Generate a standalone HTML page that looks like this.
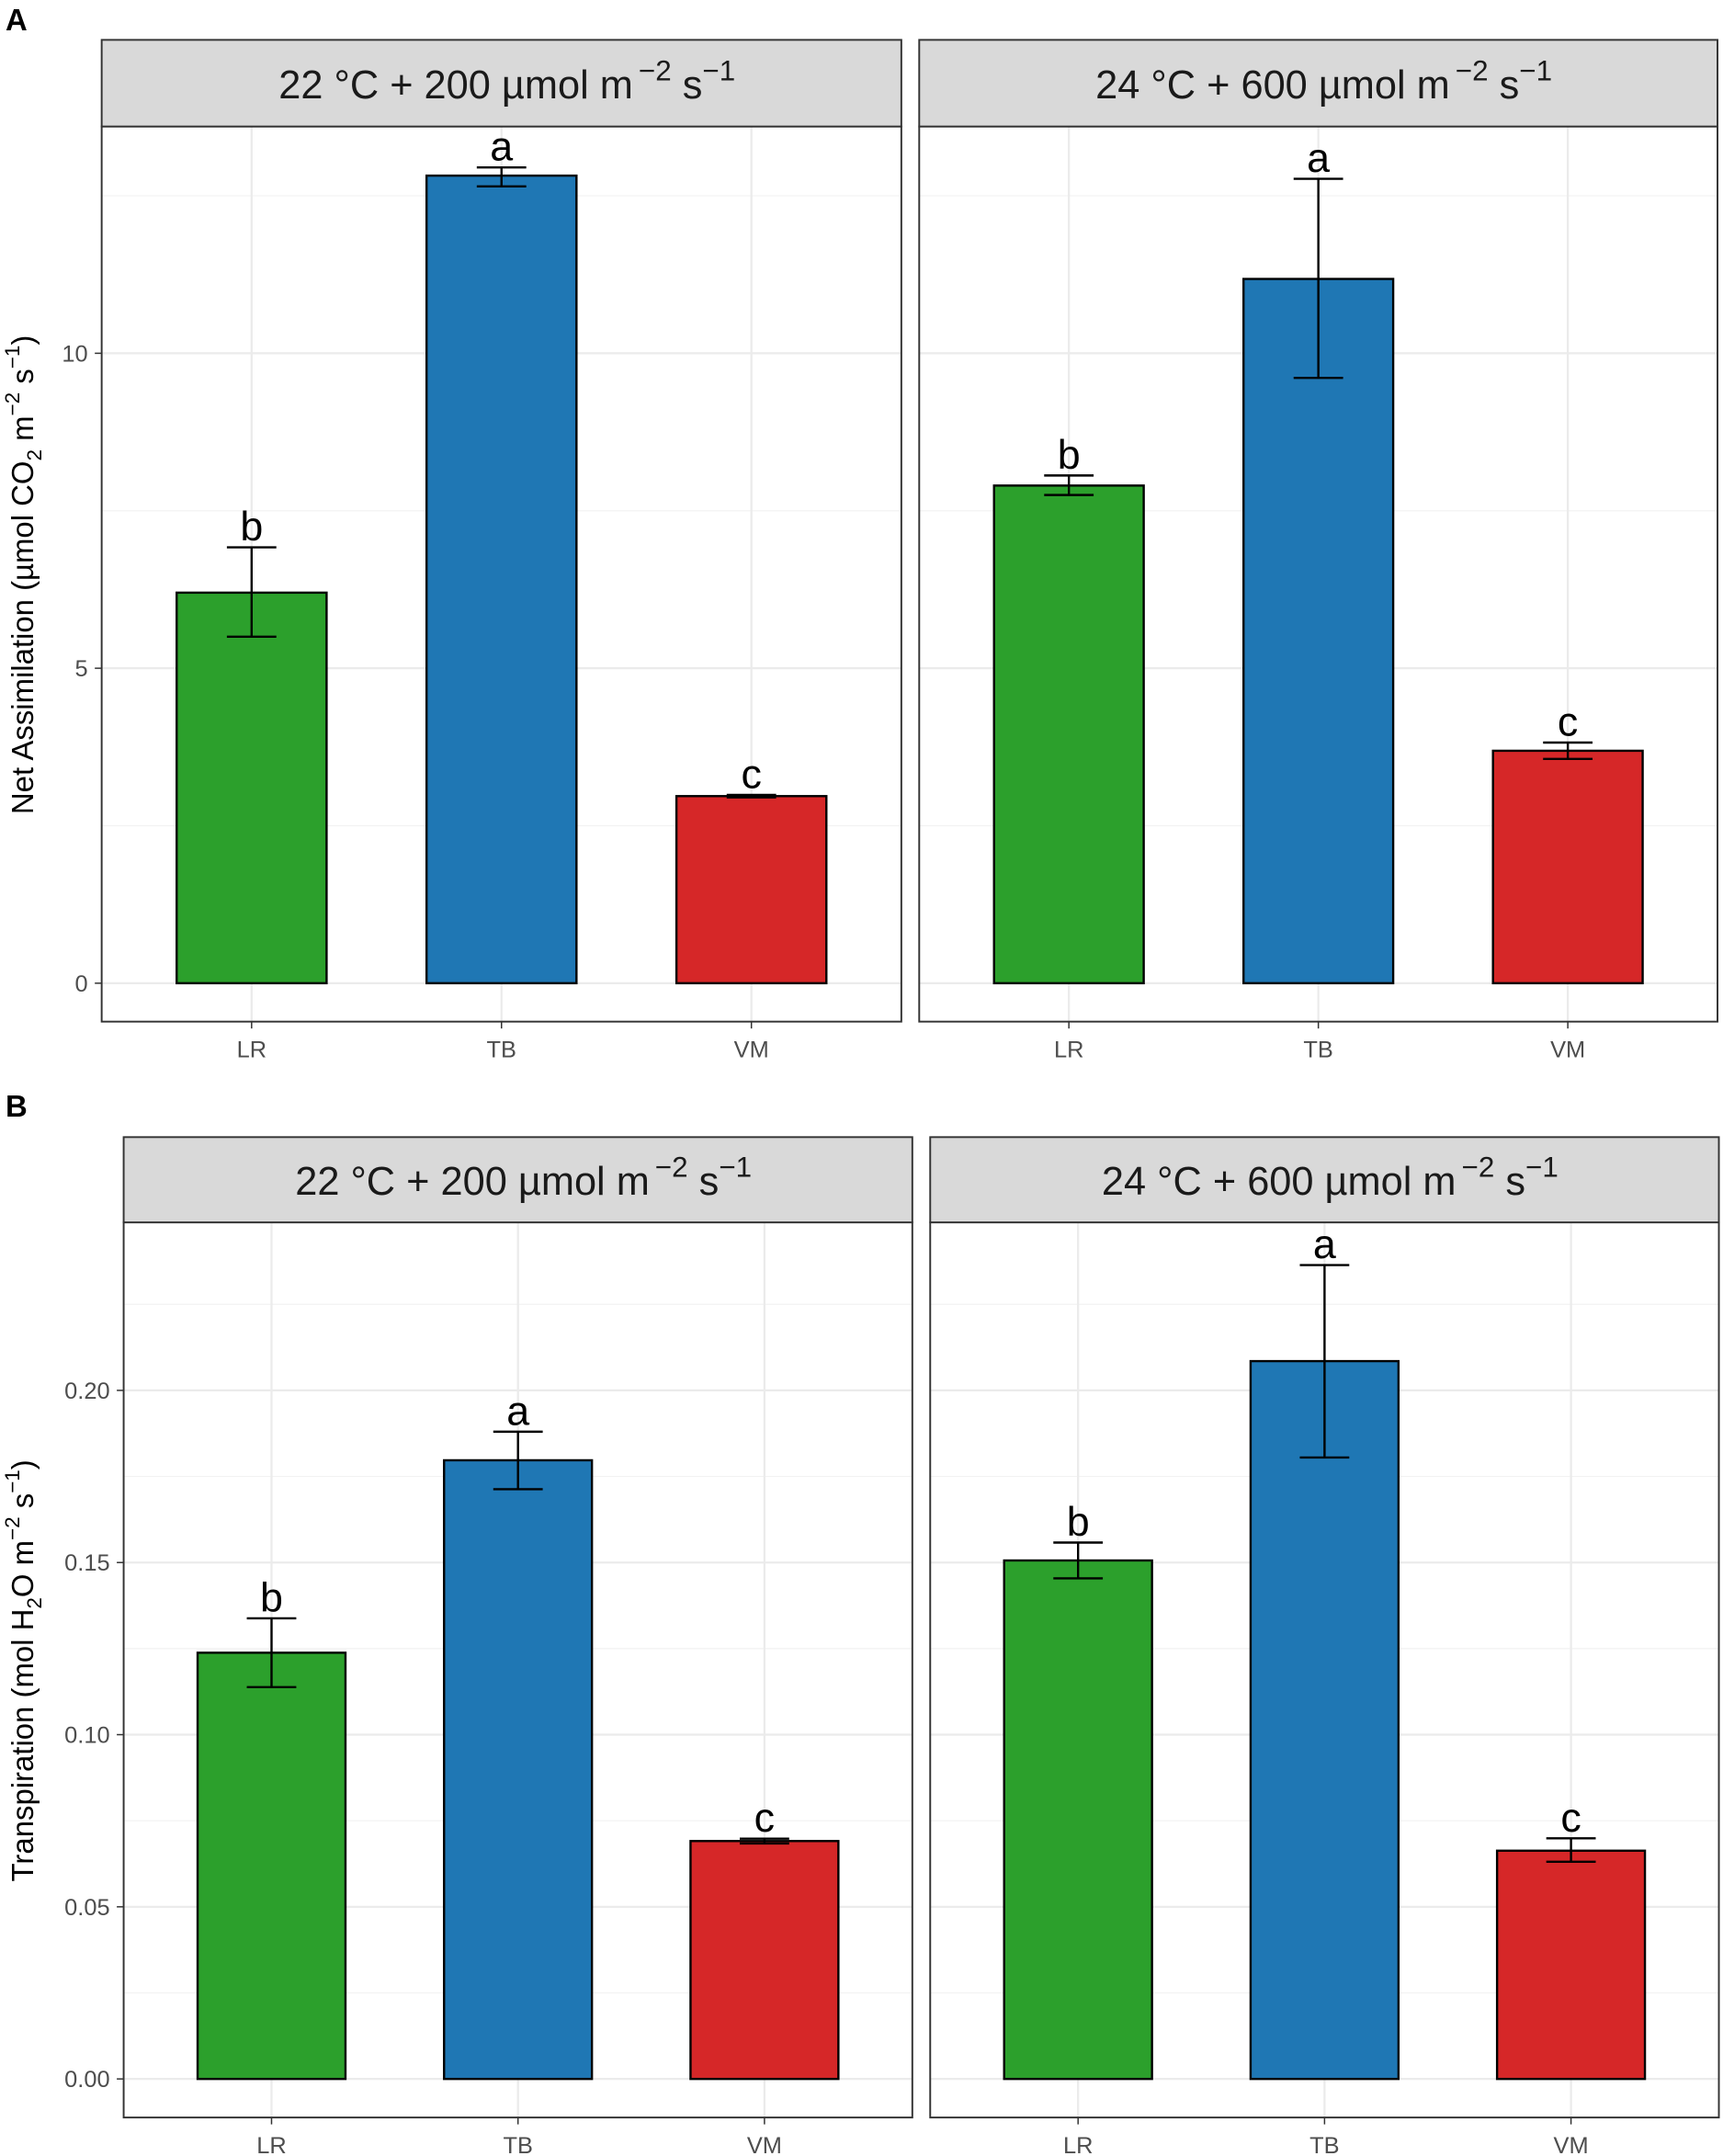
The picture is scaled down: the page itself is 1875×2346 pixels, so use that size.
<!DOCTYPE html>
<html><head><meta charset="utf-8"><style>
html,body{margin:0;padding:0;background:#fff}
svg{display:block;font-family:"Liberation Sans",Arial,sans-serif}
</style></head><body>
<svg id="c" width="1875" height="2346" viewBox="0 0 1254 1568" preserveAspectRatio="none" xmlns="http://www.w3.org/2000/svg"></svg>
<script>
const categories = ["LR","TB","VM"];
const colors = ["#2ca02c","#1f77b4","#d62728"];
const aLeftVals = [6.2, 12.82, 2.97];
const aLeftLo = [5.5, 12.65, 2.95];
const aLeftHi = [6.92, 12.95, 2.99];
const aLeftLetters = ["b","a","c"];
const aRightVals = [7.9, 11.18, 3.69];
const aRightLo = [7.75, 9.61, 3.56];
const aRightHi = [8.06, 12.77, 3.82];
const aRightLetters = ["b","a","c"];
const aTicks = [0, 5, 10];
const aTickLabels = ["0","5","10"];
const bLeftVals = [0.1238, 0.1797, 0.0691];
const bLeftLo = [0.1138, 0.1713, 0.0684];
const bLeftHi = [0.1338, 0.188, 0.0698];
const bLeftLetters = ["b","a","c"];
const bRightVals = [0.1506, 0.2085, 0.0663];
const bRightLo = [0.1454, 0.1805, 0.0631];
const bRightHi = [0.1558, 0.2364, 0.0699];
const bRightLetters = ["b","a","c"];
const bTicks = [0, 0.05, 0.10, 0.15, 0.20];
const bTickLabels = ["0.00","0.05","0.10","0.15","0.20"];

const svg = document.getElementById('c');
const NS = "http://www.w3.org/2000/svg";
function mk(tag, attrs, parent){const e=document.createElementNS(NS,tag);for(const k in attrs)e.setAttribute(k,attrs[k]);(parent||svg).appendChild(e);return e;}
function sp(parent, txt, attrs){const e=mk('tspan',attrs||{},parent);e.textContent=txt;return e;}

function panel(o){
  const g = mk('g',{});
  
  
  const y = v => o.yTop + (o.vMax - v)/(o.vMax - o.vMin)*(o.yBot - o.yTop);
  const bw = (o.x1 - o.x0);
  const step = bw/3.2;
  const xc = i => o.x0 + step*(0.6 + i);
  const minor = [];
  for(let i=1;i<o.ticks.length;i++) minor.push((o.ticks[i]+o.ticks[i-1])/2);
  minor.push(o.ticks[o.ticks.length-1] + (o.ticks[1]-o.ticks[0])/2);
  minor.forEach(v=>{ if(y(v)>o.yTop){ const l=mk('line',{x1:o.x0,x2:o.x1,y1:y(v),y2:y(v),stroke:'#f2f2f2','stroke-width':0.8},g);  }});
  o.ticks.forEach(v=>{ const l=mk('line',{x1:o.x0,x2:o.x1,y1:y(v),y2:y(v),stroke:'#ebebeb','stroke-width':1.5},g);  });
  categories.forEach((c,i)=>{ const l=mk('line',{x1:xc(i),x2:xc(i),y1:o.yTop,y2:o.yBot,stroke:'#ebebeb','stroke-width':1.5},g);  });
  const bwid = step*0.6;
  categories.forEach((c,i)=>{
    const r = mk('rect',{x:xc(i)-bwid/2,y:y(o.vals[i]),width:bwid,height:y(0)-y(o.vals[i]),fill:colors[i],stroke:'#000','stroke-width':1.6},g);
    
    
    const eg = mk('g',{stroke:'#000','stroke-width':1.6},g);
    
    
    mk('line',{x1:xc(i),x2:xc(i),y1:y(o.hi[i]),y2:y(o.lo[i])},eg);
    mk('line',{x1:xc(i)-18,x2:xc(i)+18,y1:y(o.hi[i]),y2:y(o.hi[i])},eg);
    mk('line',{x1:xc(i)-18,x2:xc(i)+18,y1:y(o.lo[i]),y2:y(o.lo[i])},eg);
    const t = mk('text',{x:xc(i),y:y(o.hi[i])-5,'text-anchor':'middle','font-size':30,fill:'#000'},g);
    t.textContent = o.letters[i];
    
    
    const tk = mk('line',{x1:xc(i),x2:xc(i),y1:o.yBot,y2:o.yBot+5,stroke:'#333','stroke-width':1},g);
    
    
    const xl = mk('text',{x:xc(i),y:o.yBot+26,'text-anchor':'middle','font-size':17,fill:'#4d4d4d'},g);
    xl.textContent = c;
    
    
  });
  const b = mk('rect',{x:o.x0,y:o.yTop,width:bw,height:o.yBot-o.yTop,fill:'none',stroke:'#333','stroke-width':1.3},g);
  
  
  const s = mk('rect',{x:o.x0,y:o.sTop,width:bw,height:o.yTop-o.sTop,fill:'#d9d9d9',stroke:'#333','stroke-width':1.3},g);
  
  
  const st = mk('text',{x:(o.x0+o.x1)/2+4,y:(o.sTop+o.yTop)/2+11,'text-anchor':'middle','font-size':29,fill:'#1a1a1a'},g);
  sp(st, o.t1+' °C +  '+o.t2+' µmol m');
  sp(st, '\u2212', {dy:-13,'font-size':21,dx:4});
  sp(st, '2', {'font-size':21});
  sp(st, ' s', {dy:13});
  sp(st, '\u2212', {dy:-13,'font-size':21});
  sp(st, '1', {'font-size':21});
  
  
  if(o.yAxis){
    o.ticks.forEach((v,i)=>{
      const l=mk('line',{x1:o.x0-5,x2:o.x0,y1:y(v),y2:y(v),stroke:'#333','stroke-width':1},g);
       
      const t=mk('text',{x:o.x0-10,y:y(v)+6,'text-anchor':'end','font-size':17,fill:'#4d4d4d'},g);
      t.textContent=o.tickLabels[i];
       
    });
  }
}

panel({name:'panel-a-left',x0:74,x1:656,sTop:29,yTop:92,yBot:743,vMin:-0.61,vMax:13.6,vals:aLeftVals,lo:aLeftLo,hi:aLeftHi,letters:aLeftLetters,ticks:aTicks,tickLabels:aTickLabels,t1:'22',t2:'200',yAxis:true});
panel({name:'panel-a-right',x0:669,x1:1250,sTop:29,yTop:92,yBot:743,vMin:-0.61,vMax:13.6,vals:aRightVals,lo:aRightLo,hi:aRightHi,letters:aRightLetters,ticks:aTicks,tickLabels:aTickLabels,t1:'24',t2:'600',yAxis:false});
panel({name:'panel-b-left',x0:90,x1:664,sTop:827,yTop:889,yBot:1540,vMin:-0.0112,vMax:0.2488,vals:bLeftVals,lo:bLeftLo,hi:bLeftHi,letters:bLeftLetters,ticks:bTicks,tickLabels:bTickLabels,t1:'22',t2:'200',yAxis:true});
panel({name:'panel-b-right',x0:677,x1:1251,sTop:827,yTop:889,yBot:1540,vMin:-0.0112,vMax:0.2488,vals:bRightVals,lo:bRightLo,hi:bRightHi,letters:bRightLetters,ticks:bTicks,tickLabels:bTickLabels,t1:'24',t2:'600',yAxis:false});

let t = mk('text',{x:4,y:22,'font-size':22,'font-weight':'bold',fill:'#000'});
t.textContent='A';


t = mk('text',{x:4,y:812,'font-size':22,'font-weight':'bold',fill:'#000'});
t.textContent='B';


t = mk('text',{x:0,y:0,'font-size':22,fill:'#000','text-anchor':'middle',transform:'translate(24,418) rotate(-90)'});
sp(t,'Net Assimilation (µmol CO'); sp(t,'2',{dy:6,'font-size':15}); sp(t,' m',{dy:-6}); sp(t,'\u22122',{dy:-10,'font-size':15}); sp(t,' s',{dy:10}); sp(t,'\u22121',{dy:-10,'font-size':15}); sp(t,')',{dy:10});


t = mk('text',{x:0,y:0,'font-size':22,fill:'#000','text-anchor':'middle',transform:'translate(24,1215) rotate(-90)'});
sp(t,'Transpiration (mol H'); sp(t,'2',{dy:6,'font-size':15}); sp(t,'O m',{dy:-6}); sp(t,'\u22122',{dy:-10,'font-size':15}); sp(t,' s',{dy:10}); sp(t,'\u22121',{dy:-10,'font-size':15}); sp(t,')',{dy:10});


</script>
</body></html>
